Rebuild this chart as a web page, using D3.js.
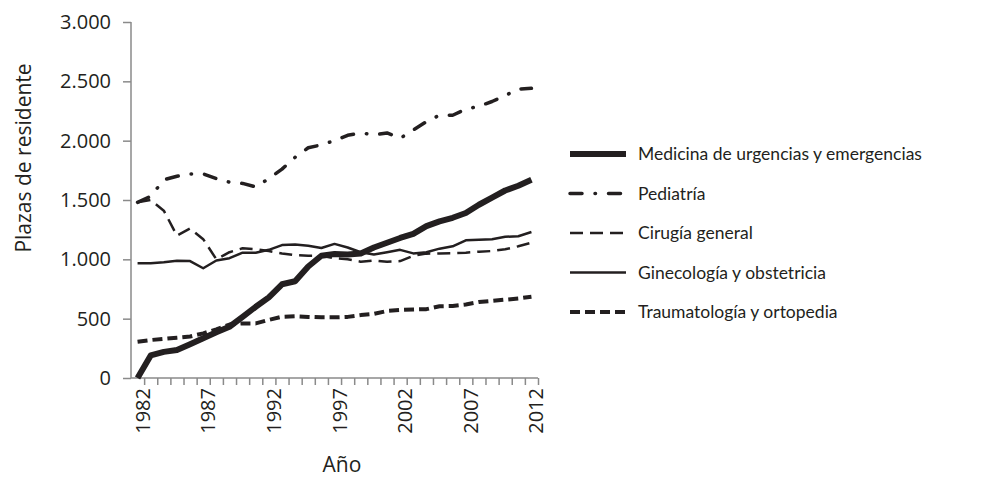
<!DOCTYPE html>
<meta charset="utf-8">
<style>
body { margin: 0; background: #fff; }
text { font-family: "Open Sans", sans-serif; fill: #231f20; }
.axis path, .axis line { stroke: #8a8a8a; stroke-width: 1.5px; fill: none; }
.axis text { font-size: 20px; fill: #231f20; }
.serie { fill: none; stroke: #231f20; stroke-linejoin: round; }
</style>
<svg width="999" height="478"></svg>
<script src="https://d3js.org/d3.v7.min.js"></script>
<script>
var years = d3.range(1982, 2013);

var medicina = [0, 190, 220, 236, 285, 335, 385, 432, 515, 600, 680, 790, 815, 940, 1030,
  1045, 1040, 1050, 1100, 1140, 1180, 1215, 1280, 1320, 1350, 1390, 1460, 1520, 1580, 1620, 1670];
var pediatria = [1480, 1530, 1670, 1700, 1720, 1720, 1680, 1650, 1640, 1610, 1680, 1760, 1860, 1940, 1965,
  2000, 2045, 2065, 2050, 2065, 2020, 2090, 2160, 2214, 2214, 2265, 2290, 2330, 2380, 2435, 2441];
var cirugia = [1480, 1500, 1410, 1200, 1260, 1170, 1000, 1060, 1093, 1085, 1070, 1050, 1035, 1030, 1030,
  1010, 1000, 980, 990, 980, 985, 1030, 1048, 1050, 1052, 1056, 1064, 1070, 1085, 1110, 1140];
var ginecologia = [966, 966, 975, 988, 985, 925, 990, 1010, 1056, 1056, 1080, 1120, 1125, 1115, 1095,
  1130, 1100, 1060, 1040, 1060, 1080, 1050, 1060, 1090, 1110, 1160, 1165, 1170, 1190, 1195, 1230];
var traumatologia = [306, 320, 330, 340, 350, 376, 410, 450, 460, 460, 490, 516, 520, 515, 511,
  511, 515, 530, 540, 565, 573, 577, 580, 605, 607, 620, 640, 650, 660, 670, 685];

var seriesNames = ["Medicina de urgencias y emergencias", "Pediatría", "Cirugía general",
  "Ginecología y obstetricia", "Traumatología y ortopedia"];
var yTicks = [0, 500, 1000, 1500, 2000, 2500, 3000];
var yearLabels = [1982, 1987, 1992, 1997, 2002, 2007, 2012];

var svg = d3.select("svg");

var x = d3.scaleLinear().domain([1981.5, 2012.5]).range([131, 538]);
var y = d3.scaleLinear().domain([0, 3000]).range([378, 22]);

var es = d3.formatLocale({decimal: ",", thousands: ".", grouping: [3], currency: ["", ""]});

// estilo de cada serie
var styles = [
  {w: 6, dash: null, cap: "butt"},
  {w: 3.5, dash: "12,13,0.5,13", cap: "round"},
  {w: 2.5, dash: "13,7", cap: "butt"},
  {w: 2.5, dash: null, cap: "butt"},
  {w: 4, dash: "10,5", cap: "butt"}
];
var data = [medicina, pediatria, cirugia, ginecologia, traumatologia];

// ejes
svg.append("g")
    .attr("class", "axis")
    .attr("transform", "translate(131,0)")
    .call(d3.axisLeft(y).tickValues(yTicks).tickSize(8).tickSizeOuter(0).tickPadding(12)
      .tickFormat(es.format(",")))
    .call(function(g) { g.select(".domain").remove(); })
    .call(function(g) { g.selectAll("text").attr("font-family", "Open Sans"); });

svg.append("g")
    .attr("class", "axis")
    .attr("transform", "translate(0,378)")
    .call(d3.axisBottom(x).tickValues(d3.range(1982.5, 2013.5, 1)).tickSize(7).tickSizeOuter(0).tickFormat(""))
    .call(function(g) { g.select(".domain").remove(); });

svg.append("line")
    .attr("x1", 131).attr("x2", 131).attr("y1", y(3000)).attr("y2", 378)
    .attr("stroke", "#8a8a8a").attr("stroke-width", 1.5);
svg.append("line")
    .attr("x1", 131).attr("x2", x(2012.5)).attr("y1", 378).attr("y2", 378)
    .attr("stroke", "#8a8a8a").attr("stroke-width", 1.5);

svg.selectAll(".yr")
    .data(yearLabels)
    .enter().append("text")
    .attr("class", "yr")
    .attr("transform", function(d) { return "translate(" + (x(d) + 5) + ",388) rotate(-90)"; })
    .attr("dy", "0.35em")
    .attr("text-anchor", "end")
    .style("font-size", "20px")
    .text(function(d) { return d; });

svg.append("text")
    .attr("x", 342).attr("y", 472)
    .attr("text-anchor", "middle")
    .style("font-size", "21px")
    .text("Año");

svg.append("text")
    .attr("transform", "translate(31,158) rotate(-90)")
    .attr("text-anchor", "middle")
    .style("font-size", "21px")
    .text("Plazas de residente");

// líneas
var line = d3.line()
    .x(function(d, i) { return x(years[i]); })
    .y(function(d) { return y(d); });

svg.selectAll(".serie")
    .data(data)
    .enter().append("path")
    .attr("class", "serie")
    .attr("d", line)
    .attr("stroke-width", function(d, i) { return styles[i].w; })
    .attr("stroke-dasharray", function(d, i) { return styles[i].dash; })
    .attr("stroke-linecap", function(d, i) { return styles[i].cap; });

// leyenda
var leg = svg.selectAll(".leg")
    .data(seriesNames)
    .enter().append("g")
    .attr("class", "leg")
    .attr("transform", function(d, i) { return "translate(570," + (154 + i * 39.5) + ")"; });

leg.append("line")
    .attr("x1", 0).attr("x2", 56)
    .attr("stroke", "#231f20")
    .attr("stroke-width", function(d, i) { return styles[i].w; })
    .attr("stroke-dasharray", function(d, i) { return styles[i].dash; })
    .attr("stroke-linecap", function(d, i) { return styles[i].cap; });

leg.append("text")
    .attr("x", 68)
    .attr("dy", "0.35em")
    .style("font-family", "Lato")
    .style("font-size", "17.5px")
    .text(function(d) { return d; });
</script>
